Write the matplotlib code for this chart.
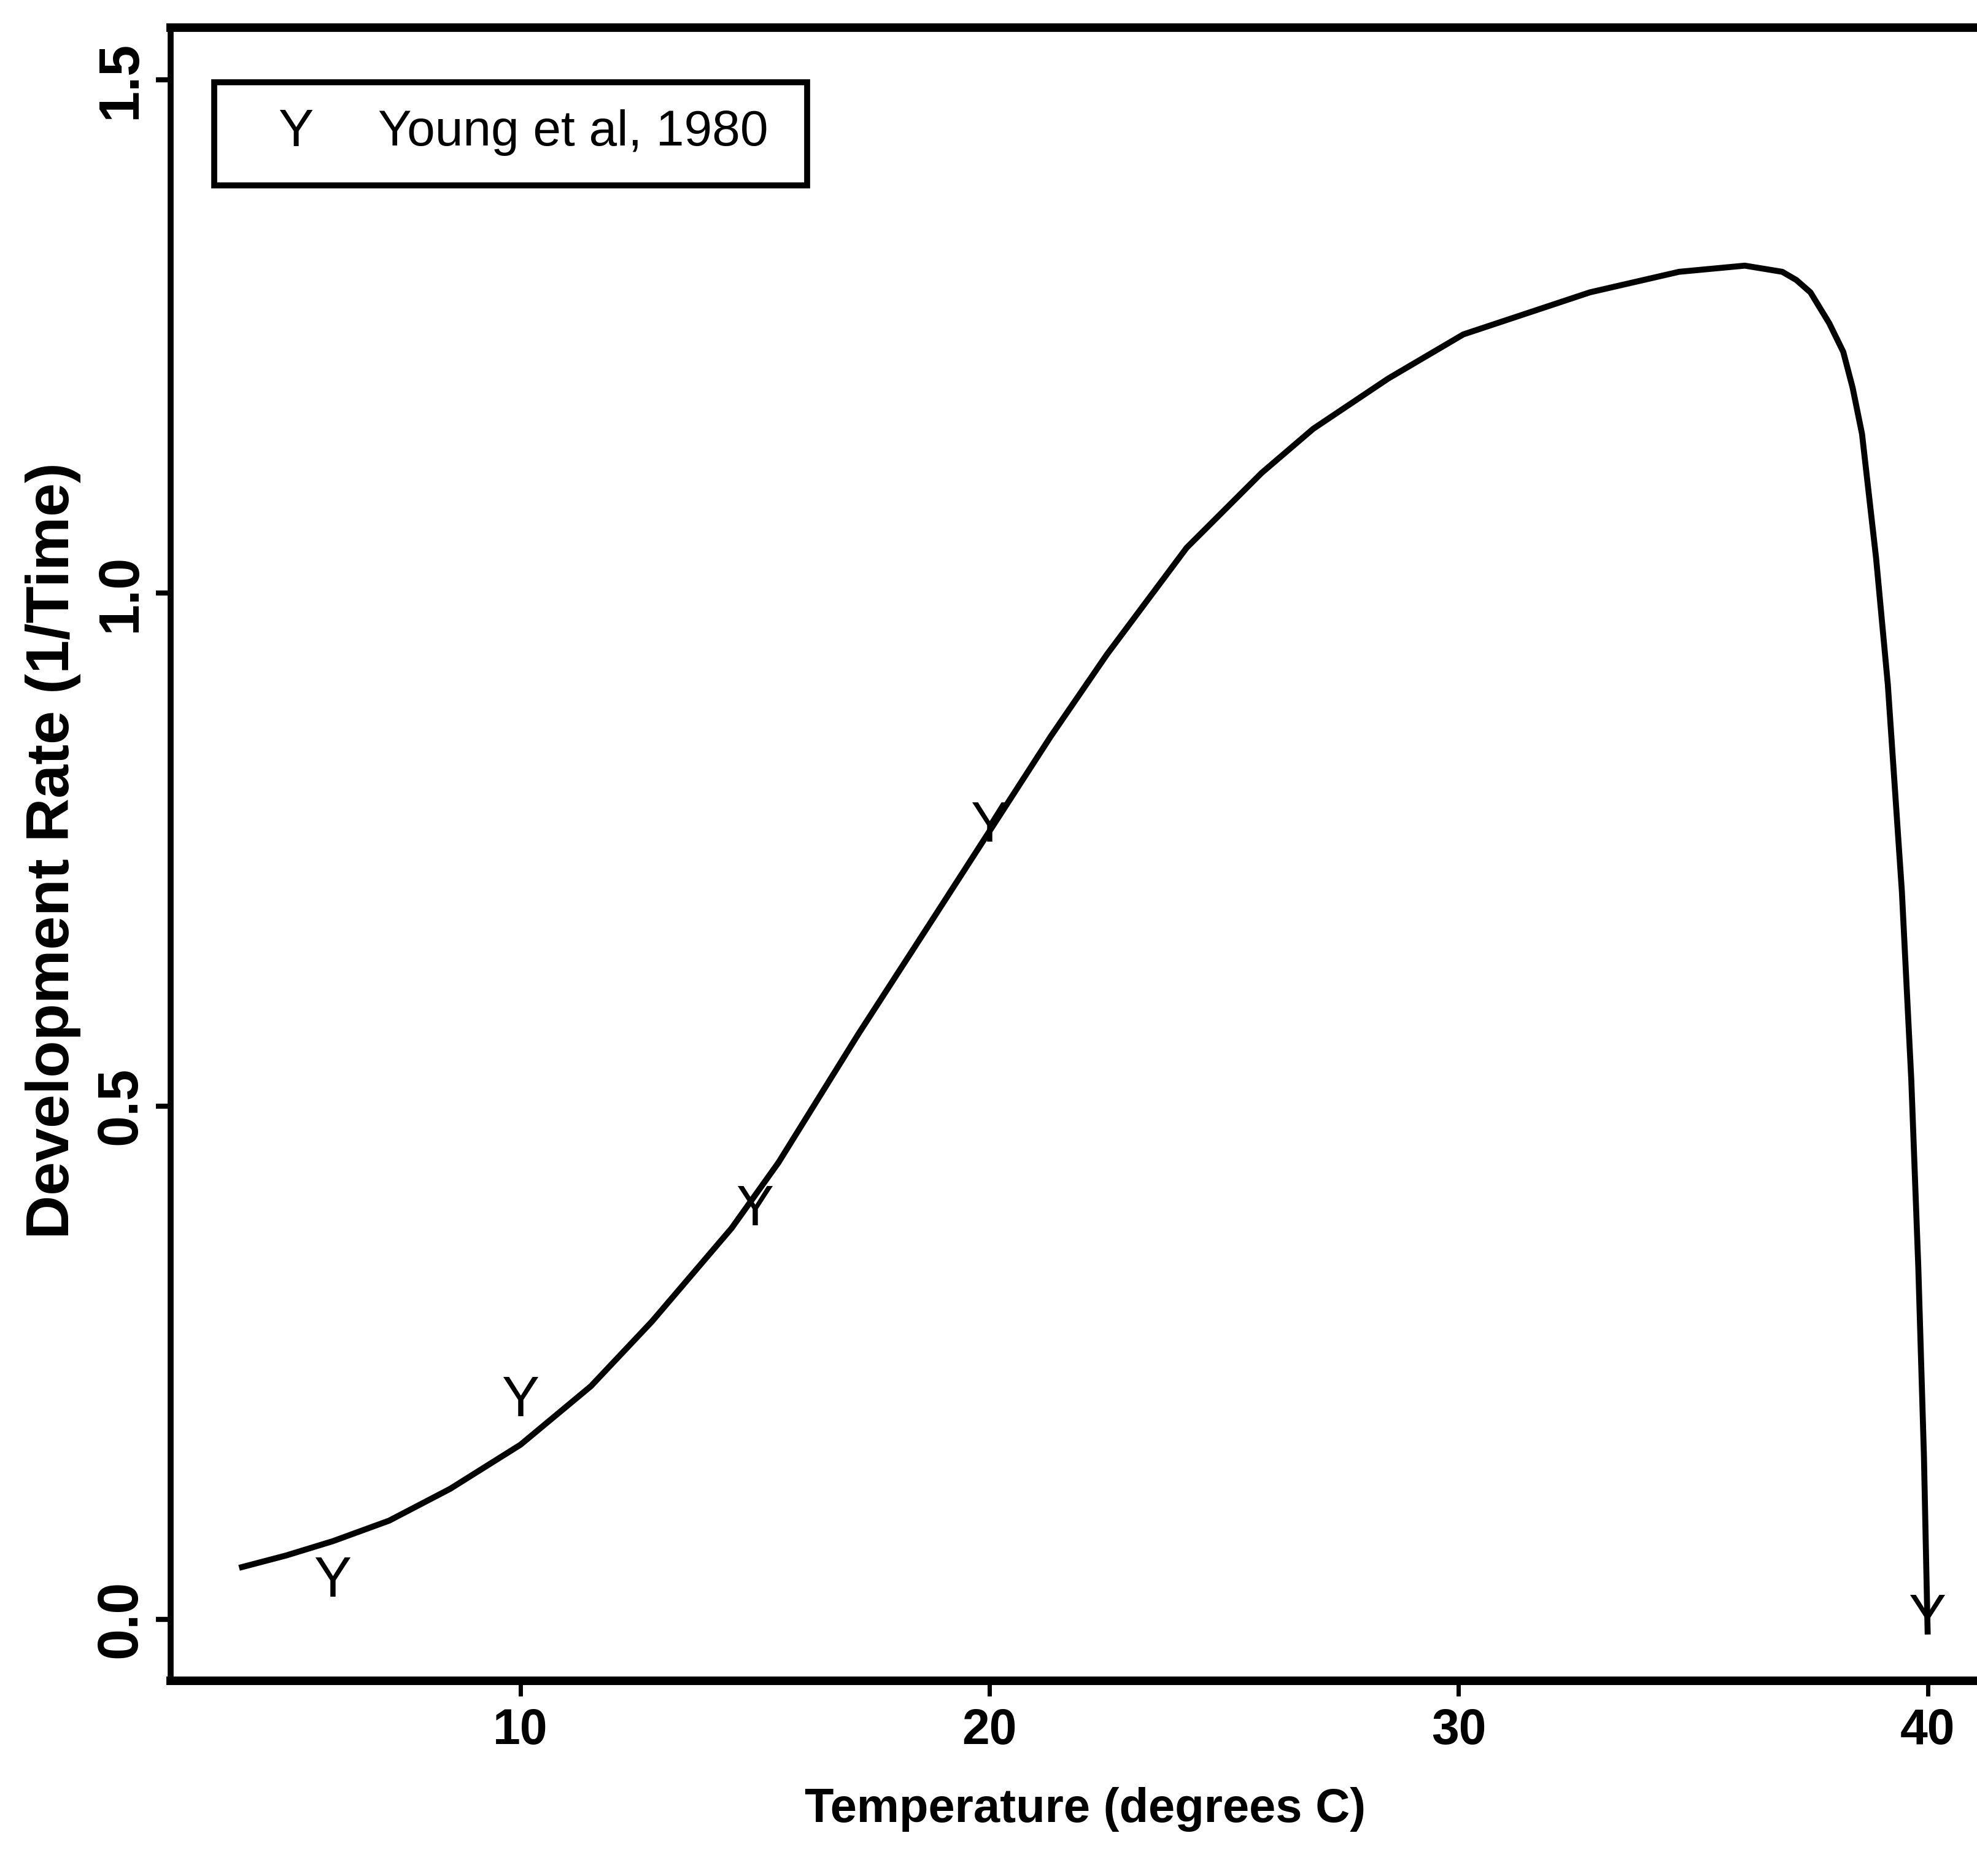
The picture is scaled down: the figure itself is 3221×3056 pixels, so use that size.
import matplotlib
matplotlib.use("Agg")
import matplotlib.pyplot as plt
from matplotlib.patches import Rectangle

# ---------------------------------------------------------------------------
# Data
# ---------------------------------------------------------------------------
curve_temp = [4.0, 5.0, 6.0, 7.2, 8.5, 10.0, 11.5, 12.8, 14.5, 15.5, 17.2,
              18.8, 20.0, 21.3, 22.5, 24.2, 25.8, 26.9, 28.5, 30.1, 32.8,
              34.7, 36.1, 36.9, 37.2, 37.5, 37.9, 38.2, 38.4, 38.6, 38.9,
              39.15, 39.45, 39.65, 39.8, 39.92, 40.0]
curve_rate = [0.050, 0.062, 0.076, 0.096, 0.127, 0.170, 0.227, 0.290, 0.381,
              0.445, 0.570, 0.683, 0.768, 0.860, 0.940, 1.044, 1.117, 1.160,
              1.209, 1.252, 1.293, 1.313, 1.319, 1.313, 1.305, 1.293, 1.263,
              1.235, 1.200, 1.155, 1.034, 0.911, 0.709, 0.526, 0.343, 0.159,
              -0.015]

obs_temp = [6, 10, 15, 20, 40]
obs_rate = [0.036, 0.212, 0.398, 0.772, 0.0]

x_ticks = [10, 20, 30, 40]
y_ticks = [0.0, 0.5, 1.0, 1.5]
y_ticklabels = ["0.0", "0.5", "1.0", "1.5"]

FONT = ["Liberation Sans", "DejaVu Sans"]

fig = plt.figure(figsize=(32.21, 30.56), dpi=100)
ax = fig.add_axes([0.0863, 0.1041, 0.9196, 0.8812])

ax.plot(curve_temp, curve_rate, color="black", lw=7, solid_capstyle="butt",
        solid_joinstyle="round")
for t, r in zip(obs_temp, obs_rate):
    ax.text(t, r, "Y", ha="center", va="center", fontsize=66,
            family=FONT, color="black")

ax.set_xlim(2.54, 41.3)
ax.set_ylim(-0.060, 1.551)

ax.set_xticks(x_ticks)
ax.set_xticklabels([str(v) for v in x_ticks], family=FONT,
                   fontweight="bold", fontsize=58)
ax.set_yticks(y_ticks)
ax.set_yticklabels(y_ticklabels, family=FONT, fontweight="bold",
                   fontsize=66, rotation=90, va="center")

ax.tick_params(axis="x", direction="out", length=18, width=5, pad=14)
ax.tick_params(axis="y", direction="out", length=17, width=6, pad=10)

ax.spines["left"].set_linewidth(7)
ax.spines["bottom"].set_linewidth(10)
ax.spines["top"].set_linewidth(10)
ax.spines["right"].set_linewidth(10)

ax.set_xlabel("Temperature (degrees C)", family=FONT, fontweight="bold",
              fontsize=56, va="center")
ax.xaxis.set_label_coords(0.503, -0.078)
ax.set_ylabel("Development Rate (1/Time)", family=FONT, fontweight="bold",
              fontsize=71, va="center")
ax.yaxis.set_label_coords(-0.0648, 0.502)

# legend box
ax.add_patch(Rectangle((0.024, 0.9046), 0.326, 0.0624, transform=ax.transAxes,
                       fill=False, edgecolor="black", lw=7, zorder=5))
ax.text(0.069, 0.9365, "Y", transform=ax.transAxes, ha="center", va="center",
        fontsize=62, family=FONT)
ax.text(0.114, 0.9365, "Young et al, 1980", transform=ax.transAxes,
        ha="left", va="center", fontsize=59, family=FONT)

fig.savefig("out.png", dpi=100, facecolor="white")
